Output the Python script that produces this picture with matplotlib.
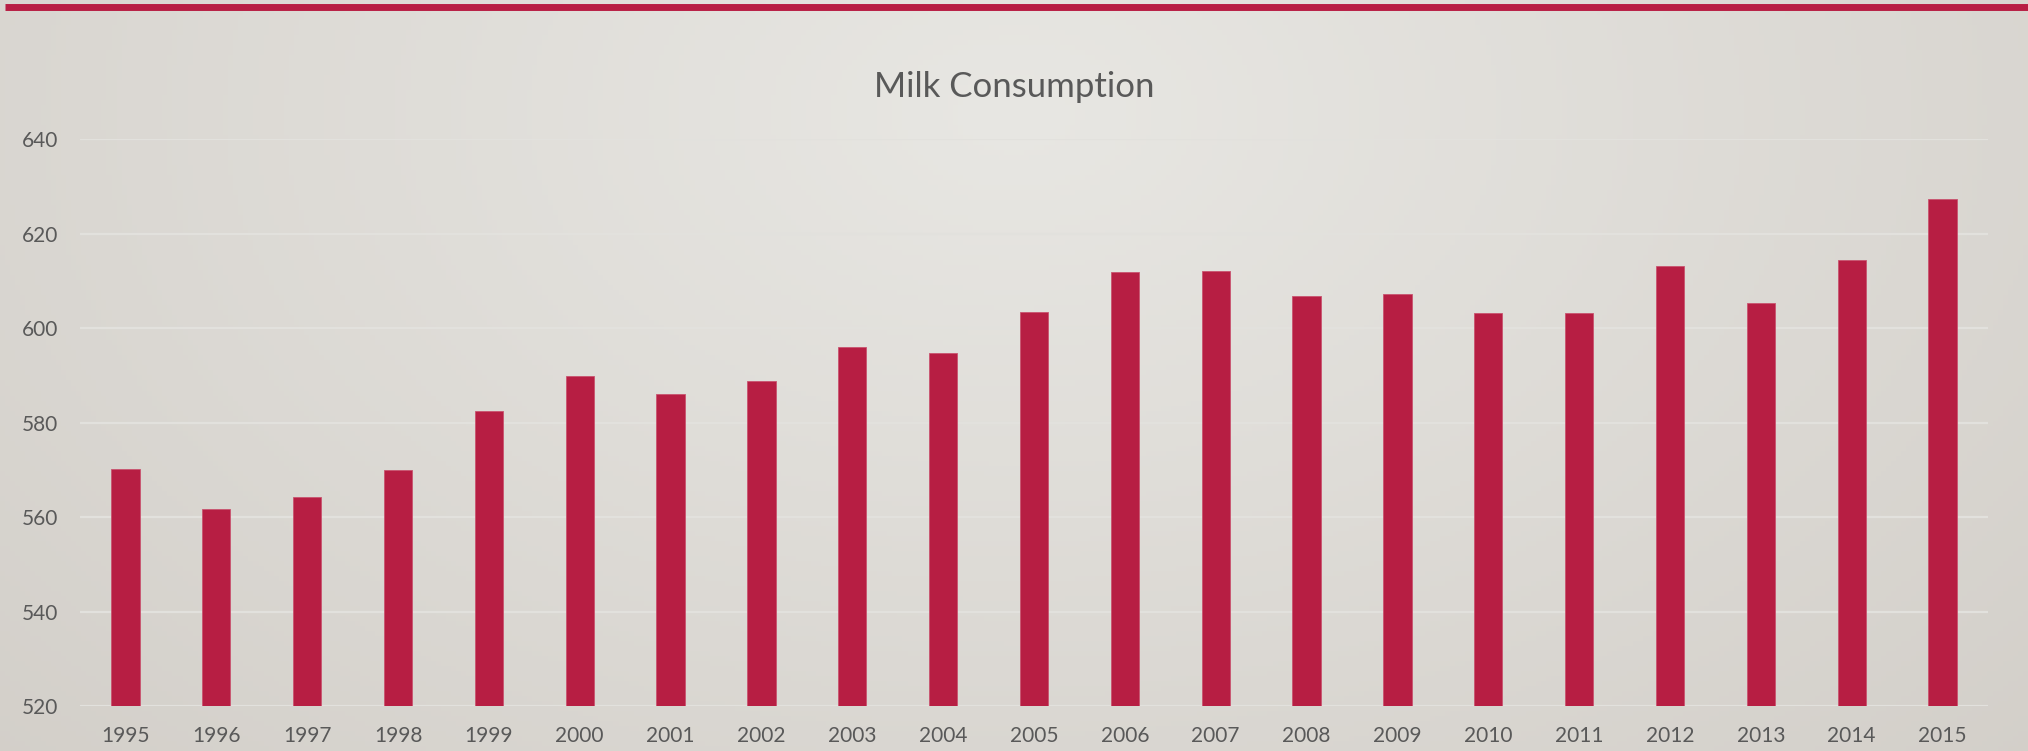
import numpy as np
import matplotlib
matplotlib.use("Agg")
import matplotlib.pyplot as plt
from matplotlib.lines import Line2D

years = [str(y) for y in range(1995, 2016)]
consumption = [570.2, 561.8, 564.2, 570.1, 582.6, 590.0, 586.2, 588.8, 596.0, 594.8,
               603.4, 611.9, 612.2, 606.9, 607.3, 603.2, 603.2, 613.1, 605.3, 614.4, 627.3]
yticks = [520, 540, 560, 580, 600, 620, 640]
title = "Milk Consumption"

W, H = 2028, 751
fig = plt.figure(figsize=(W / 100, H / 100), dpi=100)

# background gradient
bg = fig.add_axes([0, 0, 1, 1], zorder=-10)
xx, yy = np.meshgrid(np.linspace(0, 1, 400), np.linspace(0, 1, 150))
d = np.sqrt(((xx - 0.5) / 0.75) ** 2 + ((yy - 0.15) / 1.3) ** 2)
d = np.clip(d, 0, 1)
c_in = np.array([232, 231, 227]) / 255
c_out = np.array([210, 206, 200]) / 255
img = c_in[None, None, :] * (1 - d[..., None]) + c_out[None, None, :] * d[..., None]
bg.imshow(img, aspect="auto", extent=[0, 1, 0, 1], origin="upper")
bg.set_axis_off()

# top red line
fig.add_artist(Line2D([5 / W, 1], [1 - 6.7 / H, 1 - 6.7 / H], color="#b81e44",
                      linewidth=5.0, solid_capstyle="butt", transform=fig.transFigure))

ax = fig.add_axes([80 / W, (H - 706.3) / H, (1988 - 80) / W, (706.3 - 139.3) / H])
ax.patch.set_alpha(0)
x = np.arange(len(years))
ax.bar(x, consumption, width=0.31, bottom=0, color="#b71e43", edgecolor="#c9536f",
       linewidth=0.6, zorder=3)
ax.set_xlim(-0.5, len(years) - 0.5)
ax.set_ylim(yticks[0], yticks[-1])
ax.set_yticks(yticks)
ax.set_xticks(x)
ax.set_xticklabels(years)
for s in ax.spines.values():
    s.set_visible(False)
ax.tick_params(axis="both", length=0, labelsize=15, labelcolor="#595959")
ax.tick_params(axis="y", pad=15.5)
ax.tick_params(axis="x", pad=14.5)
for lab in ax.get_xticklabels() + ax.get_yticklabels():
    lab.set_fontfamily("Lato")
ax.yaxis.grid(True, color="#e2e1dd", linewidth=1.6, zorder=0)
ax.set_axisbelow(True)

fig.text(1014 / W, 1 - 87 / H, title, ha="center", va="center", fontsize=25,
         color="#595959", fontfamily="Lato")

fig.savefig("out.png", dpi=100)
